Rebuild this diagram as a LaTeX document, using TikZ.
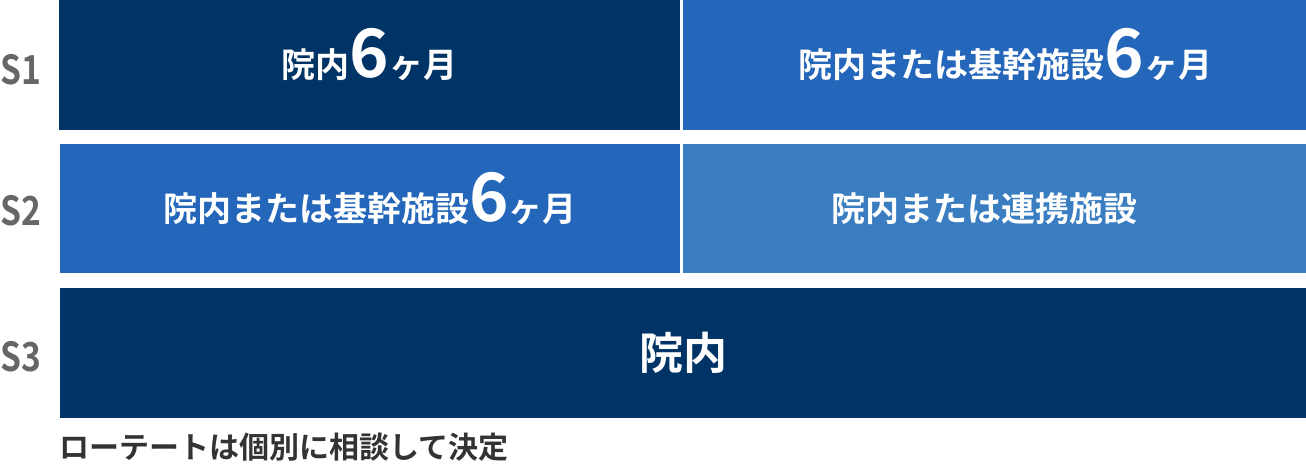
\documentclass[tikz,border=0pt]{standalone}
\usepackage{fontspec}
\newfontfamily\jpfont{Noto Sans CJK JP}[BoldFont={Noto Sans CJK JP Bold}]
\definecolor{navy}{RGB}{0,51,102}
\definecolor{midblue}{RGB}{36,102,186}
\definecolor{lightblue}{RGB}{58,126,193}
\definecolor{labelgray}{RGB}{102,102,102}
\definecolor{notegray}{RGB}{51,51,51}
\newcommand{\six}{\smash{\fontsize{67}{67}\selectfont 6}}

\begin{document}
\begin{tikzpicture}[x=1pt,y=-1pt,
    every node/.style={font=\jpfont\bfseries},
    box/.style={fill=#1,text=white,anchor=north west,inner sep=0,
      minimum height=130pt,font=\jpfont\bfseries\fontsize{34}{34}\selectfont},
    rowlabel/.style={anchor=west,inner sep=0,text=labelgray,xscale=0.84,transform shape,
      font=\jpfont\bfseries\fontsize{40}{40}\selectfont}]
  \useasboundingbox (0,0) rectangle (1306,465);

  % S1
  \node[box=navy,minimum width=621pt] (s1a) at (59,0) {院内\six ヶ月};
  \node[box=midblue,minimum width=623pt] (s1b) at (683,0) {\hspace*{22pt}院内または基幹施設\six ヶ月};
  % S2
  \node[box=midblue,minimum width=620pt,minimum height=129pt] (s2a) at (60,144) {院内または基幹施設\six ヶ月};
  \node[box=lightblue,minimum width=623pt,minimum height=129pt] (s2b) at (683,144) {院内または連携施設\hspace*{20pt}};
  % S3
  \node[box=navy,minimum width=1246pt,font=\jpfont\bfseries\fontsize{44}{44}\selectfont] (s3) at (60,288) {院内};

  \node[rowlabel] (l1) at (0,70) {S1};
  \node[rowlabel] (l2) at (0,211) {S2};
  \node[rowlabel] (l3) at (0,357) {S3};

  \node[anchor=west,inner sep=0,text=notegray,font=\jpfont\bfseries\fontsize{30}{30}\selectfont]
    (note) at (59,447) {ローテートは個別に相談して決定};
\end{tikzpicture}
\end{document}
